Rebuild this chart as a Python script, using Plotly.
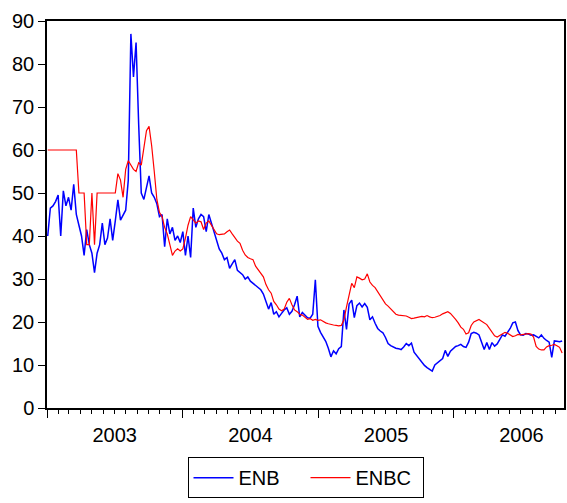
import pandas as pd
import plotly.graph_objects as go

# Weekly observations starting 2003-01-03
start_date = "2003-01-03"

enb = [
    # 2003 H1
    40, 46.5, 47, 48, 49.5, 40, 50.5, 47, 49, 46, 52, 45, 42.5, 40, 35.5, 41.5,
    38, 36, 31.5, 36, 38, 43, 38, 39.5, 44, 39, 43.5, 48.4, 43.7, 45, 46, 53,
    # spike
    87, 77, 85, 66, 50, 48.5, 51.5,
    # late 2003 - 2004 H1
    54, 50, 49, 47.5, 44.5, 45, 37.5, 44, 40.5, 42, 39, 40, 38.5, 41, 35.5, 40,
    35, 46.5, 42, 44, 45, 44.5, 41, 45, 43, 40.5, 38.5, 37, 36, 34.5, 35, 32.5,
    33.5, 34.5, 32, 31.5, 31, 30, 30.5, 29.5, 29, 28.5, 28, 27.5, 26.5, 24.5, 23,
    # 2004 H2 - 2005 H1
    24.5, 21.8, 22.4, 21.2, 22, 22.8, 23.3, 21.8, 22.5, 24, 26, 21.2, 22.2, 21.6,
    21, 20.9, 21.8, 29.8, 19, 17.6, 16.6, 15.5, 13.9, 11.9, 13.3, 12.6, 13.8, 14.3,
    22.8, 18.3, 24.2, 25.1, 21, 23.8, 24.4, 23.5, 24.3, 23.4, 20.5, 21.2,
    # 2005 H2
    19.7, 18.5, 17.9, 17.5, 16.4, 15, 14.5, 14.2, 13.9, 13.8, 13.6, 14.2, 15, 14.5,
    15.1, 13, 12.2, 11.5, 10.5, 9.9, 9.4, 9, 8.6, 10, 10.5, 11.2, 11.5, 13.4, 12,
    13.2, 13.8, 14.3, 14.5, 14.8, 14.3, 14.1, 15.3,
    # 2006
    17.3, 17.6, 17.4, 17, 15.4, 13.6, 15.2, 13.6, 15.2, 14.4, 14.9, 15.8, 17, 16.7,
    17.5, 18.5, 19.8, 20, 18, 17, 16.9, 17.3, 17.2, 16.9, 17, 16.6, 16.3, 17, 16.2,
    15.7, 15.3, 11.8, 15.6, 15.5, 15.4, 15.6,
]

enbc = [
    60, 60, 60, 60, 60, 60, 60, 60, 60, 60, 60, 60,
    50, 50, 50, 38, 38, 50, 38, 50,
    50, 50, 50, 50, 50, 50, 50, 54.5, 53, 49, 55.5, 57.5,
    56.5, 55.5, 55, 57, 56.5, 61, 64.5, 65.5, 61, 55, 48.5, 45.5, 44.5, 42, 40.5,
    38, 35.5, 36.5, 37, 36.5, 37, 39.5, 42.5, 44.5, 43.7, 43, 43.5, 43.3, 41.5, 43,
    43.5, 42.5, 41.4, 40.5, 40.3, 40.4, 40.5, 41, 41.4, 40.5, 39.5, 38.8, 38.3,
    36.7, 35.6, 35, 34.7, 34.5, 33, 32.2, 31.2, 30.5, 28.7, 27.5,
    26.7, 24.8, 24, 23, 22.6, 23, 24.6, 25.5, 24, 22.8, 22.4, 21.8, 21.6, 21.2,
    20.6, 20.8, 20.4, 20.6, 20.4, 20.5, 20.1, 19.8, 19.6, 19.4, 19.3, 19.2, 19.1,
    19.2, 20.5, 23.5, 26.3, 29, 28, 30.5, 30.2, 29.8, 30, 31.2, 29.3, 28.5,
    28, 27, 26, 25, 24.2, 23.7, 23, 22.3, 21.8, 21.6, 21.5, 21.4, 21.4, 21.1, 20.8,
    20.9, 21, 21.2, 21.3, 21.2, 21.5, 21.2, 21, 21.1, 21.3, 21.5, 21.9, 22.2, 22.4,
    22, 21.4, 20.6, 19.8, 18.8, 18.3, 17.2, 17.5,
    19.2, 20, 20.4, 20.6, 20.2, 19.8, 19.4, 18.5, 17.6, 16.8, 16.5, 16.9, 17.2,
    17.6, 17.4, 17, 16.6, 16.8, 17.1, 17, 17.1, 17.2, 17.3, 17.2, 16.5, 14.3, 13.7,
    13.5, 13.5, 14.2, 14.5, 14.6, 14.8, 14.5, 14.1, 12.8,
]

y_ticks = [0, 10, 20, 30, 40, 50, 60, 70, 80, 90]

dates = pd.date_range(start_date, periods=len(enb), freq="7D")

FONT = "Liberation Sans, Arial, sans-serif"

fig = go.Figure()
fig.add_trace(go.Scatter(x=dates, y=enb, mode="lines", name="ENB",
                         line=dict(color="#0000FF", width=1.5)))
fig.add_trace(go.Scatter(x=dates, y=enbc, mode="lines", name="ENBC",
                         line=dict(color="#FF0000", width=1.2)))

fig.update_layout(
    width=567, height=503,
    margin=dict(l=47, r=3, t=21, b=95, autoexpand=False),
    paper_bgcolor="white", plot_bgcolor="white",
    font=dict(family=FONT, size=20, color="black"),
    showlegend=True,
    legend=dict(orientation="h", x=0.5, xanchor="center", y=-0.127, yanchor="top",
                bordercolor="black", borderwidth=1, font=dict(size=20),
                itemwidth=40, entrywidth=62, tracegroupgap=0),
    xaxis=dict(
        type="date", range=["2003-01-01", "2006-10-25"], automargin=False,
        tick0="2003-01-01", dtick="M12", ticklabelmode="period",
        tickformat="%Y", ticks="outside", ticklen=8, tickwidth=1, tickcolor="black",
        minor=dict(dtick="M1", tick0="2003-01-01", ticks="outside", ticklen=4,
                   tickwidth=1, tickcolor="black", showgrid=False),
        showgrid=False, zeroline=False,
        showline=True, linecolor="black", linewidth=1.5, mirror=True,
        tickfont=dict(size=20),
    ),
    yaxis=dict(
        range=[0, 90], tickvals=y_ticks, ticks="outside", ticklen=7, automargin=False,
        tickcolor="black", showgrid=False, zeroline=False,
        showline=True, linecolor="black", linewidth=1.5, mirror=True,
        tickfont=dict(size=20),
    ),
)

fig.write_html("out.html", config={"displayModeBar": False},
               post_script="document.body.style.margin='0';document.body.style.overflow='hidden';")
